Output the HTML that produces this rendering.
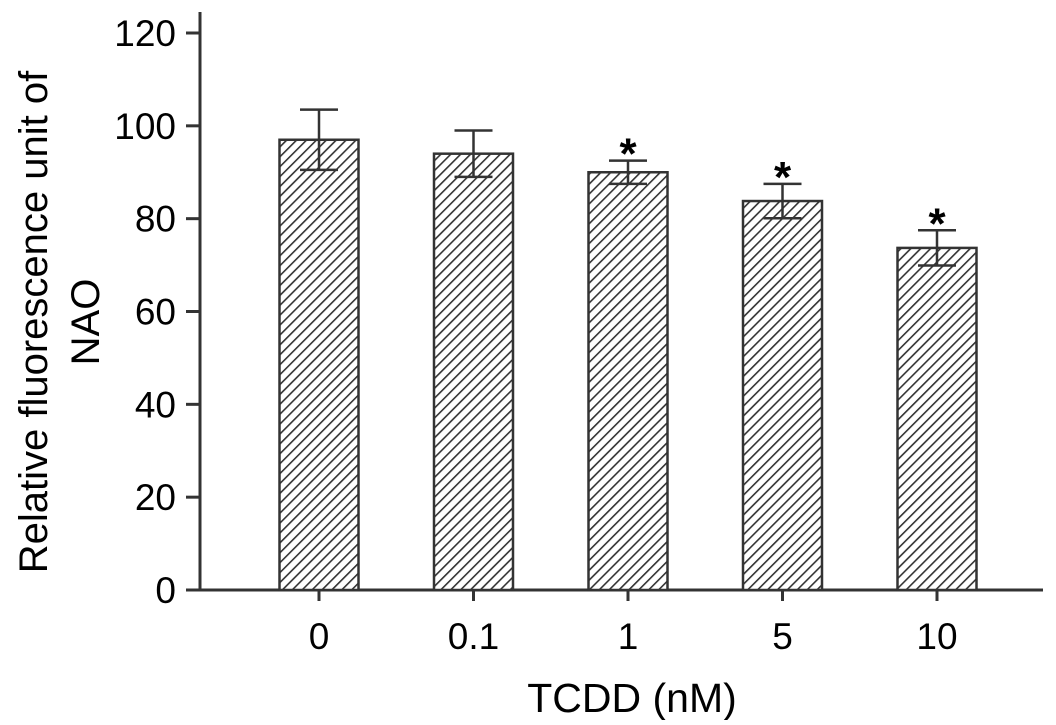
<!DOCTYPE html>
<html><head><meta charset="utf-8"><style>
body{margin:0;background:#fff;}
text{font-family:"Liberation Sans",sans-serif;fill:#000;}
</style></head><body>
<svg width="1056" height="720">
<defs>
<pattern id="hatch" patternUnits="userSpaceOnUse" width="7" height="7" patternTransform="rotate(45)">
<rect width="7" height="7" fill="#fff"/>
<line x1="0" y1="0" x2="0" y2="7" stroke="#333" stroke-width="3.2"/>
</pattern>
</defs>
<g id="axes"></g>
<g id="bars"></g>
<text x="632" y="712" font-size="41" text-anchor="middle">TCDD (nM)</text>
<text transform="translate(47,322) rotate(-90)" font-size="40" text-anchor="middle"><tspan x="0" dy="0">Relative fluorescence unit of</tspan><tspan x="0" dy="1.3em">NAO</tspan></text>
</svg>
<script>
const categories=["0","0.1","1","5","10"];
const values=[97,94,90,83.8,73.7];
const errors=[6.5,5,2.5,3.7,3.8];
const significant=[false,false,true,true,true];
const yTicks=[0,20,40,60,80,100,120];
const NS="http://www.w3.org/2000/svg";
function y(v){return 590-v*(590-33)/120;}
function xc(i){return 319+i*154.5;}
function mk(tag,attrs,parent){const e=document.createElementNS(NS,tag);for(const k in attrs)e.setAttribute(k,attrs[k]);parent.appendChild(e);return e;}
const ax=document.getElementById('axes'),bg=document.getElementById('bars');
let l=mk('line',{x1:200,y1:12,x2:200,y2:591,stroke:'#333','stroke-width':3},ax);


l=mk('line',{x1:199,y1:590,x2:1043,y2:590,stroke:'#333','stroke-width':3},ax);


yTicks.forEach(t=>{
 mk('line',{x1:186,y1:y(t),x2:200,y2:y(t),stroke:'#333','stroke-width':3},ax);
 const tx=mk('text',{x:176,y:y(t)+13,'font-size':37,'text-anchor':'end'},ax);tx.textContent=t;
 
 
});
categories.forEach((c,i)=>{
 const cx=xc(i),w=79;
 mk('line',{x1:cx,y1:590,x2:cx,y2:601,stroke:'#333','stroke-width':3},ax);
 const tx=mk('text',{x:cx,y:649,'font-size':37,'text-anchor':'middle'},ax);tx.textContent=c;
 
 
 const r=mk('rect',{x:cx-w/2,y:y(values[i]),width:w,height:590-y(values[i]),fill:'url(#hatch)',stroke:'#333','stroke-width':2.5},bg);
 
 
 const hi=y(values[i]+errors[i]),lo=y(values[i]-errors[i]);
 const eb=mk('path',{d:`M${cx},${lo}V${hi}M${cx-19},${hi}H${cx+19}M${cx-19},${lo}H${cx+19}`,stroke:'#333','stroke-width':2.5,fill:'none'},bg);
 
 
 if(significant[i]){
  const s=mk('text',{x:cx,y:hi+8,'font-size':44,'text-anchor':'middle','font-weight':'bold'},bg);s.textContent='*';
  
  
 }
});
</script>
</body></html>
